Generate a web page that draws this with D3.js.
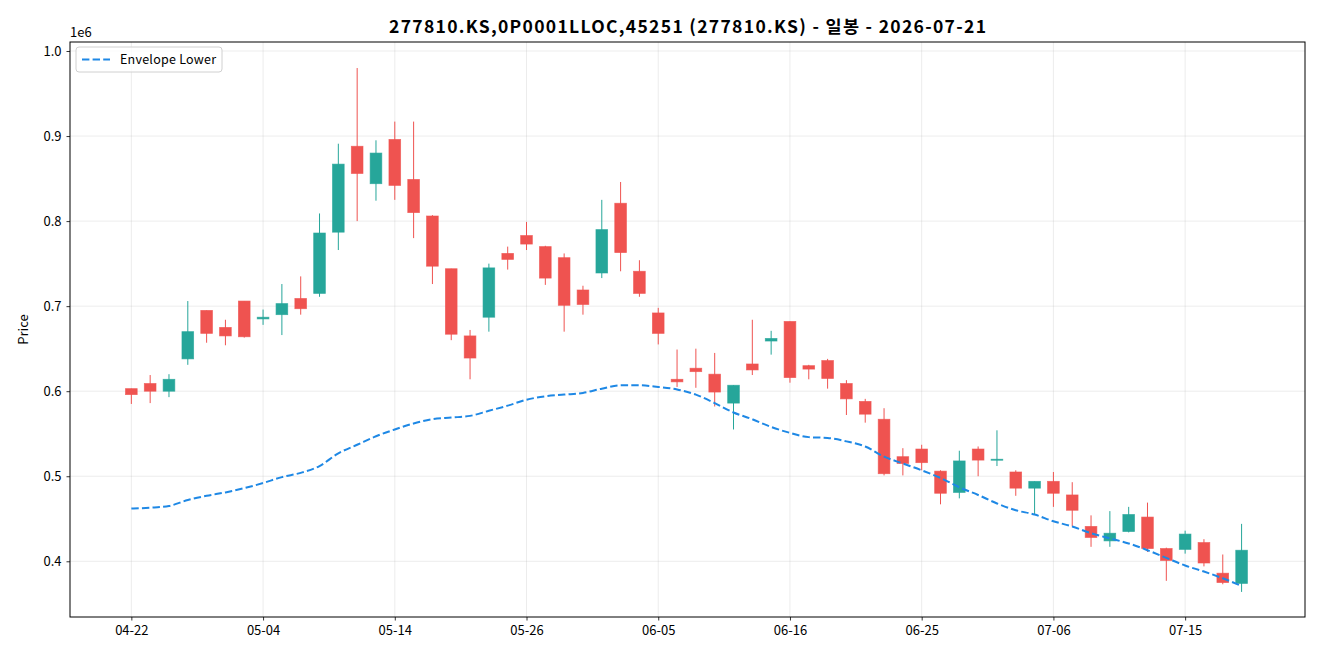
<!DOCTYPE html>
<html>
<head>
<meta charset="utf-8">
<script src="https://cdn.jsdelivr.net/npm/d3@7"></script>
<style>
    body { margin: 0; background: #fff; }
    svg { display: block; font-family: "Noto Sans CJK KR", "Noto Sans", sans-serif; }
</style>
</head>
<body>
<script>
// trading days (MM-DD)
const dates = ["04-22", "04-23", "04-24", "04-27", "04-28", "04-29", "04-30", "05-04", "05-06", "05-07",
    "05-08", "05-11", "05-12", "05-13", "05-14", "05-15", "05-18", "05-19", "05-20", "05-21",
    "05-22", "05-26", "05-27", "05-28", "05-29", "06-01", "06-02", "06-04", "06-05", "06-08",
    "06-09", "06-10", "06-11", "06-12", "06-15", "06-16", "06-17", "06-18", "06-19", "06-22",
    "06-23", "06-24", "06-25", "06-26", "06-29", "06-30", "07-01", "07-02", "07-03", "07-06",
    "07-07", "07-08", "07-09", "07-10", "07-13", "07-14", "07-15", "07-16", "07-17", "07-20"];

const open = [603000, 609000, 600000, 638000, 695000, 675000, 706000, 685000, 690000, 709000,
    715000, 787000, 888000, 844000, 896000, 849000, 806000, 744000, 665000, 687000,
    762000, 783000, 770000, 757000, 719000, 739000, 821000, 741000, 692000, 614000,
    627000, 620000, 586000, 632000, 659000, 682000, 630000, 636000, 609000, 588000,
    567000, 523000, 532000, 506000, 481000, 532000, 519000, 505000, 486000, 494000,
    478000, 441000, 424000, 435000, 452000, 415000, 414000, 422000, 386000, 374000];

const high = [603000, 619000, 620000, 706000, 695000, 684000, 706000, 696000, 726000, 735000,
    809000, 891000, 980000, 895000, 917000, 917000, 807000, 744000, 672000, 750000,
    770000, 799000, 771000, 762000, 724000, 825000, 846000, 754000, 698000, 649000,
    650000, 645000, 607000, 684000, 671000, 682000, 631000, 638000, 613000, 591000,
    580000, 533000, 537000, 507000, 530000, 535000, 554000, 507000, 494000, 505000,
    493000, 454000, 459000, 464000, 469000, 416000, 436000, 426000, 408000, 444000];

const low = [585000, 586000, 593000, 631000, 657000, 654000, 663000, 678000, 666000, 690000,
    711000, 766000, 800000, 824000, 825000, 780000, 726000, 660000, 614000, 670000,
    743000, 766000, 725000, 670000, 690000, 733000, 741000, 711000, 655000, 605000,
    604000, 582000, 555000, 619000, 643000, 610000, 614000, 603000, 572000, 563000,
    501000, 501000, 507000, 467000, 474000, 500000, 512000, 477000, 455000, 464000,
    441000, 417000, 417000, 434000, 411000, 377000, 409000, 394000, 373000, 364000];

const close = [596000, 600000, 614000, 670000, 668000, 665000, 664000, 687000, 703000, 697000,
    786000, 867000, 856000, 880000, 842000, 810000, 747000, 667000, 639000, 745000,
    755000, 773000, 733000, 701000, 702000, 790000, 763000, 715000, 668000, 611000,
    623000, 599000, 607000, 625000, 662000, 616000, 626000, 615000, 591000, 573000,
    503000, 515000, 516000, 480000, 518000, 519000, 520000, 486000, 494000, 480000,
    460000, 428000, 433000, 455000, 415000, 401000, 432000, 398000, 375000, 413000];

const envelopeLower = [462000, 463000, 465000, 472000, 477000, 481000, 486000, 492000, 499000, 504000,
    512000, 527000, 537000, 547000, 555000, 562000, 567000, 569000, 571000, 577000,
    583000, 590000, 594000, 596000, 598000, 603000, 607000, 607000, 605000, 602000,
    596000, 586000, 575000, 567000, 558000, 551000, 546000, 545000, 541000, 535000,
    523000, 515000, 507000, 498000, 487000, 478000, 468000, 460000, 455000, 447000,
    441000, 433000, 427000, 421000, 413000, 404000, 395000, 388000, 380000, 371000];

const yTicks = [400000, 500000, 600000, 700000, 800000, 900000, 1000000];
const xTickStep = 7;

window.onload = function () {
    drawChart();
}

function drawChart() {
    const width = 1320,
        height = 660,
        margin = {top: 42, right: 15, bottom: 43, left: 70};
    const up = "#26a69a", down = "#ef5350";

    const candles = dates.map(function (d, i) {
        return {i: i, date: d, open: open[i], high: high[i], low: low[i], close: close[i]};
    });

    const x = d3.scaleLinear()
        .domain([-3.26, candles.length - 1 + 3.37])
        .range([margin.left, width - margin.right]);

    const y = d3.scaleLinear()
        .domain([334500, 1010600])
        .range([height - margin.bottom, margin.top]);

    const step = x(1) - x(0);
    const bodyW = step * 0.62;

    const svg = d3.select("body").append("svg")
        .attr("width", width)
        .attr("height", height);

    svg.append("rect")
        .attr("width", width)
        .attr("height", height)
        .attr("fill", "white");

    const xTickIdx = d3.range(0, candles.length, xTickStep);

    // grid
    svg.append("g")
        .selectAll("line")
        .data(xTickIdx)
        .enter().append("line")
        .attr("x1", (d) => x(d)).attr("x2", (d) => x(d))
        .attr("y1", margin.top).attr("y2", height - margin.bottom)
        .attr("stroke", "#b0b0b0").attr("stroke-opacity", 0.3).attr("stroke-width", 0.8);

    svg.append("g")
        .selectAll("line")
        .data(yTicks)
        .enter().append("line")
        .attr("x1", margin.left).attr("x2", width - margin.right)
        .attr("y1", (d) => y(d)).attr("y2", (d) => y(d))
        .attr("stroke", "#b0b0b0").attr("stroke-opacity", 0.3).attr("stroke-width", 0.8);

    // candles
    const g = svg.append("g");

    g.selectAll(".wick")
        .data(candles)
        .enter().append("line")
        .attr("class", "wick")
        .attr("x1", (d) => x(d.i)).attr("x2", (d) => x(d.i))
        .attr("y1", (d) => y(d.high)).attr("y2", (d) => y(d.low))
        .attr("stroke", (d) => d.close >= d.open ? up : down)
        .attr("stroke-width", 1);

    g.selectAll(".body")
        .data(candles)
        .enter().append("rect")
        .attr("class", "body")
        .attr("x", (d) => x(d.i) - bodyW / 2)
        .attr("width", bodyW)
        .attr("y", (d) => y(Math.max(d.open, d.close)))
        .attr("height", (d) => Math.max(1, Math.abs(y(d.open) - y(d.close))))
        .attr("fill", (d) => d.close >= d.open ? up : down)
        .attr("stroke", (d) => d.close >= d.open ? up : down)
        .attr("stroke-opacity", 0.75)
        .attr("stroke-width", 0.8);

    // envelope lower
    const line = d3.line()
        .x((d, i) => x(i))
        .y((d) => y(d))
        .curve(d3.curveMonotoneX);

    svg.append("path")
        .datum(envelopeLower)
        .attr("d", line)
        .attr("fill", "none")
        .attr("stroke", "#1e88e5")
        .attr("stroke-width", 2)
        .attr("stroke-dasharray", "7.4,3.2");

    // axes
    const xAxis = d3.axisBottom(x)
        .tickValues(xTickIdx)
        .tickFormat((d) => dates[d])
        .tickSizeOuter(0)
        .tickSize(3.5)
        .tickPadding(5);

    const yAxis = d3.axisLeft(y)
        .tickValues(yTicks)
        .tickFormat((d) => d3.format(".1f")(d / 1e6))
        .tickSizeOuter(0)
        .tickSize(3.5)
        .tickPadding(5);

    const gx = svg.append("g")
        .attr("transform", "translate(0," + (height - margin.bottom) + ")")
        .call(xAxis);
    const gy = svg.append("g")
        .attr("transform", "translate(" + margin.left + ",0)")
        .call(yAxis);

    [gx, gy].forEach(function (a) {
        a.select(".domain").remove();
        a.selectAll("text").attr("font-size", 13).attr("fill", "#000")
            .style("font-family", "'Noto Sans CJK KR', 'Noto Sans', sans-serif");
        a.selectAll("line").attr("stroke", "#000").attr("stroke-width", 0.8);
    });

    // frame
    svg.append("rect")
        .attr("x", margin.left)
        .attr("y", margin.top)
        .attr("width", width - margin.left - margin.right)
        .attr("height", height - margin.top - margin.bottom)
        .attr("fill", "none")
        .attr("stroke", "#000")
        .attr("stroke-width", 1);

    // offset text
    svg.append("text")
        .attr("x", margin.left)
        .attr("y", margin.top - 5)
        .attr("font-size", 13)
        .text("1e6");

    // y label
    svg.append("text")
        .attr("transform", "translate(28," + ((margin.top + height - margin.bottom) / 2) + ") rotate(-90)")
        .attr("text-anchor", "middle")
        .attr("font-size", 13)
        .text("Price");

    // title
    svg.append("text")
        .attr("x", (margin.left + width - margin.right) / 2)
        .attr("y", 33)
        .attr("text-anchor", "middle")
        .attr("font-size", 17.5)
        .attr("font-weight", "bold")
        .attr("textLength", 597)
        .attr("lengthAdjust", "spacing")
        .text("277810.KS,0P0001LLOC,45251 (277810.KS) - 일봉 - 2026-07-21");

    // legend
    const legend = svg.append("g")
        .attr("transform", "translate(" + (margin.left + 6) + "," + (margin.top + 5) + ")");

    legend.append("rect")
        .attr("width", 146)
        .attr("height", 25)
        .attr("rx", 3)
        .attr("fill", "white")
        .attr("fill-opacity", 0.8)
        .attr("stroke", "#d0d0d0")
        .attr("stroke-width", 1);

    legend.append("line")
        .attr("x1", 6).attr("x2", 34)
        .attr("y1", 12.5).attr("y2", 12.5)
        .attr("stroke", "#1e88e5")
        .attr("stroke-width", 2)
        .attr("stroke-dasharray", "7.4,3.2");

    legend.append("text")
        .attr("x", 44)
        .attr("y", 16.5)
        .attr("font-size", 12.5)
        .attr("textLength", 96)
        .attr("lengthAdjust", "spacing")
        .text("Envelope Lower");
}
</script>
</body>
</html>
